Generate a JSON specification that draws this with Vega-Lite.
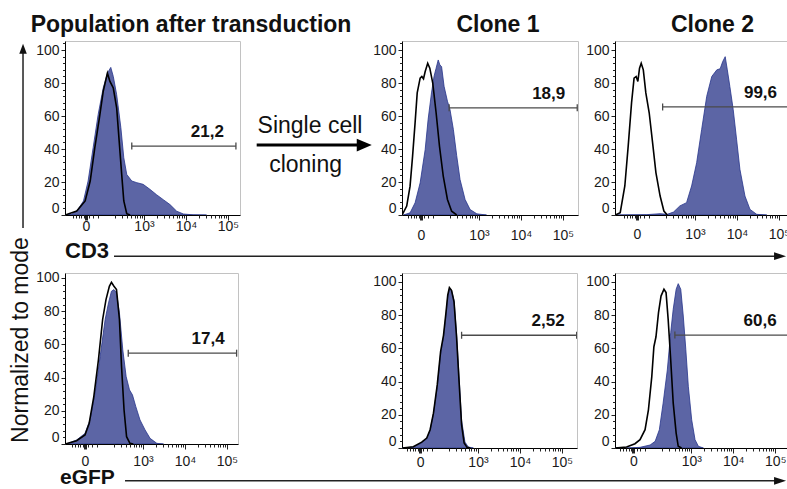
{
  "$schema": "https://vega.github.io/schema/vega-lite/v6.json",
  "padding": 0,
  "background": "white",
  "bounds": "flush",
  "columns": 5,
  "spacing": 0,
  "align": "each",
  "config": {
    "font": "Liberation Sans",
    "view": {"stroke": null},
    "axis": {"labelFont": "Liberation Sans", "domainColor": "#000", "tickColor": "#222", "labelColor": "#1a1a1a", "grid": false}
  },
  "datasets": {
    "curves": [
      {"p":"A","s":"f","u":-0.5,"v":0},{"p":"A","s":"f","u":-0.34,"v":0.5},{"p":"A","s":"f","u":-0.22,"v":2.4},{"p":"A","s":"f","u":-0.06,"v":8.5},{"p":"A","s":"f","u":0.05,"v":20.6},{"p":"A","s":"f","u":0.17,"v":40.8},{"p":"A","s":"f","u":0.29,"v":61},{"p":"A","s":"f","u":0.41,"v":77},{"p":"A","s":"f","u":0.51,"v":86},{"p":"A","s":"f","u":0.59,"v":89.5},{"p":"A","s":"f","u":0.65,"v":84},{"p":"A","s":"f","u":0.73,"v":73},{"p":"A","s":"f","u":0.83,"v":53},{"p":"A","s":"f","u":0.9,"v":34.7},{"p":"A","s":"f","u":0.97,"v":24.6},{"p":"A","s":"f","u":1.09,"v":20.6},{"p":"A","s":"f","u":1.21,"v":19.6},{"p":"A","s":"f","u":1.36,"v":18.6},{"p":"A","s":"f","u":1.52,"v":15.6},{"p":"A","s":"f","u":1.68,"v":12.3},{"p":"A","s":"f","u":1.84,"v":9.3},{"p":"A","s":"f","u":2.0,"v":6.3},{"p":"A","s":"f","u":2.16,"v":2.3},{"p":"A","s":"f","u":2.32,"v":0.6},{"p":"A","s":"f","u":2.55,"v":0.1},{"p":"A","s":"f","u":2.87,"v":0},
      {"p":"A","s":"l","u":-0.5,"v":0},{"p":"A","s":"l","u":-0.22,"v":2.4},{"p":"A","s":"l","u":-0.02,"v":8.5},{"p":"A","s":"l","u":0.1,"v":20.6},{"p":"A","s":"l","u":0.21,"v":40.8},{"p":"A","s":"l","u":0.32,"v":59},{"p":"A","s":"l","u":0.41,"v":75},{"p":"A","s":"l","u":0.51,"v":86},{"p":"A","s":"l","u":0.57,"v":81},{"p":"A","s":"l","u":0.65,"v":77},{"p":"A","s":"l","u":0.73,"v":65},{"p":"A","s":"l","u":0.79,"v":44.8},{"p":"A","s":"l","u":0.85,"v":24.6},{"p":"A","s":"l","u":0.9,"v":8.5},{"p":"A","s":"l","u":0.97,"v":0.8},{"p":"A","s":"l","u":1.05,"v":0},
      {"p":"B","s":"f","u":-0.42,"v":0},{"p":"B","s":"f","u":-0.26,"v":1.3},{"p":"B","s":"f","u":-0.14,"v":7.4},{"p":"B","s":"f","u":-0.02,"v":19.5},{"p":"B","s":"f","u":0.1,"v":39.7},{"p":"B","s":"f","u":0.17,"v":58},{"p":"B","s":"f","u":0.25,"v":74},{"p":"B","s":"f","u":0.31,"v":84},{"p":"B","s":"f","u":0.36,"v":89},{"p":"B","s":"f","u":0.41,"v":94},{"p":"B","s":"f","u":0.45,"v":91},{"p":"B","s":"f","u":0.49,"v":90},{"p":"B","s":"f","u":0.55,"v":78},{"p":"B","s":"f","u":0.63,"v":69},{"p":"B","s":"f","u":0.69,"v":64},{"p":"B","s":"f","u":0.77,"v":52},{"p":"B","s":"f","u":0.85,"v":36},{"p":"B","s":"f","u":0.93,"v":21.5},{"p":"B","s":"f","u":1.05,"v":9.4},{"p":"B","s":"f","u":1.17,"v":3.3},{"p":"B","s":"f","u":1.33,"v":0.7},{"p":"B","s":"f","u":1.56,"v":0},
      {"p":"B","s":"l","u":-0.45,"v":0},{"p":"B","s":"l","u":-0.34,"v":5.4},{"p":"B","s":"l","u":-0.26,"v":17.5},{"p":"B","s":"l","u":-0.2,"v":35.7},{"p":"B","s":"l","u":-0.14,"v":56},{"p":"B","s":"l","u":-0.09,"v":74},{"p":"B","s":"l","u":-0.02,"v":83},{"p":"B","s":"l","u":0.02,"v":84},{"p":"B","s":"l","u":0.06,"v":82.6},{"p":"B","s":"l","u":0.1,"v":87},{"p":"B","s":"l","u":0.16,"v":92},{"p":"B","s":"l","u":0.21,"v":89},{"p":"B","s":"l","u":0.28,"v":80},{"p":"B","s":"l","u":0.36,"v":62},{"p":"B","s":"l","u":0.44,"v":41.8},{"p":"B","s":"l","u":0.53,"v":23.6},{"p":"B","s":"l","u":0.63,"v":9.4},{"p":"B","s":"l","u":0.73,"v":2.3},{"p":"B","s":"l","u":0.85,"v":0},
      {"p":"C","s":"f","u":-0.52,"v":0},{"p":"C","s":"f","u":0.23,"v":0.2},{"p":"C","s":"f","u":0.55,"v":0.8},{"p":"C","s":"f","u":0.72,"v":0.4},{"p":"C","s":"f","u":0.87,"v":1.8},{"p":"C","s":"f","u":1.02,"v":5.5},{"p":"C","s":"f","u":1.18,"v":7.5},{"p":"C","s":"f","u":1.3,"v":17.6},{"p":"C","s":"f","u":1.42,"v":31.7},{"p":"C","s":"f","u":1.54,"v":52},{"p":"C","s":"f","u":1.66,"v":72},{"p":"C","s":"f","u":1.78,"v":84},{"p":"C","s":"f","u":1.9,"v":88},{"p":"C","s":"f","u":1.98,"v":88.7},{"p":"C","s":"f","u":2.04,"v":93},{"p":"C","s":"f","u":2.1,"v":96},{"p":"C","s":"f","u":2.15,"v":88},{"p":"C","s":"f","u":2.21,"v":78},{"p":"C","s":"f","u":2.29,"v":64},{"p":"C","s":"f","u":2.37,"v":46},{"p":"C","s":"f","u":2.45,"v":27.7},{"p":"C","s":"f","u":2.57,"v":11.5},{"p":"C","s":"f","u":2.69,"v":3.4},{"p":"C","s":"f","u":2.85,"v":0.4},{"p":"C","s":"f","u":3.09,"v":0},
      {"p":"C","s":"l","u":-0.52,"v":0},{"p":"C","s":"l","u":-0.4,"v":1.4},{"p":"C","s":"l","u":-0.29,"v":17.6},{"p":"C","s":"l","u":-0.21,"v":41.8},{"p":"C","s":"l","u":-0.13,"v":68},{"p":"C","s":"l","u":-0.07,"v":83},{"p":"C","s":"l","u":-0.02,"v":84},{"p":"C","s":"l","u":0.02,"v":81},{"p":"C","s":"l","u":0.06,"v":89},{"p":"C","s":"l","u":0.1,"v":92},{"p":"C","s":"l","u":0.15,"v":88},{"p":"C","s":"l","u":0.21,"v":74},{"p":"C","s":"l","u":0.29,"v":62},{"p":"C","s":"l","u":0.37,"v":44},{"p":"C","s":"l","u":0.45,"v":25.7},{"p":"C","s":"l","u":0.55,"v":11.5},{"p":"C","s":"l","u":0.64,"v":2.4},{"p":"C","s":"l","u":0.72,"v":0},
      {"p":"D","s":"f","u":-0.44,"v":0},{"p":"D","s":"f","u":-0.2,"v":2.4},{"p":"D","s":"f","u":0,"v":6.4},{"p":"D","s":"f","u":0.12,"v":14.5},{"p":"D","s":"f","u":0.24,"v":30.6},{"p":"D","s":"f","u":0.36,"v":52.7},{"p":"D","s":"f","u":0.48,"v":75},{"p":"D","s":"f","u":0.56,"v":85},{"p":"D","s":"f","u":0.63,"v":92},{"p":"D","s":"f","u":0.69,"v":93},{"p":"D","s":"f","u":0.75,"v":91},{"p":"D","s":"f","u":0.82,"v":79},{"p":"D","s":"f","u":0.9,"v":56.7},{"p":"D","s":"f","u":0.98,"v":40.6},{"p":"D","s":"f","u":1.06,"v":32.6},{"p":"D","s":"f","u":1.13,"v":29.6},{"p":"D","s":"f","u":1.21,"v":22.5},{"p":"D","s":"f","u":1.31,"v":14.5},{"p":"D","s":"f","u":1.43,"v":8.5},{"p":"D","s":"f","u":1.55,"v":3.4},{"p":"D","s":"f","u":1.71,"v":0.4},{"p":"D","s":"f","u":1.87,"v":0},
      {"p":"D","s":"l","u":-0.47,"v":0},{"p":"D","s":"l","u":-0.2,"v":2},{"p":"D","s":"l","u":0,"v":5.4},{"p":"D","s":"l","u":0.1,"v":12.5},{"p":"D","s":"l","u":0.21,"v":28.6},{"p":"D","s":"l","u":0.32,"v":50.7},{"p":"D","s":"l","u":0.42,"v":75},{"p":"D","s":"l","u":0.5,"v":87},{"p":"D","s":"l","u":0.58,"v":95},{"p":"D","s":"l","u":0.63,"v":97.4},{"p":"D","s":"l","u":0.69,"v":95},{"p":"D","s":"l","u":0.75,"v":93},{"p":"D","s":"l","u":0.82,"v":75},{"p":"D","s":"l","u":0.87,"v":46.7},{"p":"D","s":"l","u":0.93,"v":20.5},{"p":"D","s":"l","u":0.99,"v":4.4},{"p":"D","s":"l","u":1.07,"v":0.4},{"p":"D","s":"l","u":1.15,"v":0},
      {"p":"E","s":"f","u":-0.42,"v":0},{"p":"E","s":"f","u":-0.16,"v":0.6},{"p":"E","s":"f","u":0.04,"v":3},{"p":"E","s":"f","u":0.16,"v":5.6},{"p":"E","s":"f","u":0.24,"v":10.6},{"p":"E","s":"f","u":0.32,"v":20.7},{"p":"E","s":"f","u":0.41,"v":36.7},{"p":"E","s":"f","u":0.49,"v":56.8},{"p":"E","s":"f","u":0.56,"v":66.9},{"p":"E","s":"f","u":0.62,"v":81},{"p":"E","s":"f","u":0.66,"v":91},{"p":"E","s":"f","u":0.7,"v":96},{"p":"E","s":"f","u":0.75,"v":95},{"p":"E","s":"f","u":0.81,"v":89},{"p":"E","s":"f","u":0.87,"v":68.9},{"p":"E","s":"f","u":0.93,"v":42.8},{"p":"E","s":"f","u":0.99,"v":16.7},{"p":"E","s":"f","u":1.07,"v":3.6},{"p":"E","s":"f","u":1.15,"v":0.6},{"p":"E","s":"f","u":1.27,"v":0},
      {"p":"E","s":"l","u":-0.42,"v":0},{"p":"E","s":"l","u":-0.16,"v":0.8},{"p":"E","s":"l","u":0.04,"v":3.5},{"p":"E","s":"l","u":0.16,"v":6},{"p":"E","s":"l","u":0.24,"v":11},{"p":"E","s":"l","u":0.32,"v":21},{"p":"E","s":"l","u":0.41,"v":38},{"p":"E","s":"l","u":0.49,"v":58},{"p":"E","s":"l","u":0.56,"v":68},{"p":"E","s":"l","u":0.62,"v":82},{"p":"E","s":"l","u":0.66,"v":92},{"p":"E","s":"l","u":0.7,"v":96.6},{"p":"E","s":"l","u":0.75,"v":95},{"p":"E","s":"l","u":0.81,"v":88},{"p":"E","s":"l","u":0.87,"v":67},{"p":"E","s":"l","u":0.93,"v":40},{"p":"E","s":"l","u":0.99,"v":14},{"p":"E","s":"l","u":1.05,"v":3},{"p":"E","s":"l","u":1.12,"v":0.4},{"p":"E","s":"l","u":1.2,"v":0},
      {"p":"F","s":"f","u":-0.44,"v":0},{"p":"F","s":"f","u":-0.16,"v":0},{"p":"F","s":"f","u":0.16,"v":0.4},{"p":"F","s":"f","u":0.4,"v":1.8},{"p":"F","s":"f","u":0.52,"v":4},{"p":"F","s":"f","u":0.62,"v":11},{"p":"F","s":"f","u":0.71,"v":27},{"p":"F","s":"f","u":0.81,"v":47},{"p":"F","s":"f","u":0.89,"v":69.4},{"p":"F","s":"f","u":0.95,"v":83.5},{"p":"F","s":"f","u":1.02,"v":95.6},{"p":"F","s":"f","u":1.07,"v":99},{"p":"F","s":"f","u":1.13,"v":95.6},{"p":"F","s":"f","u":1.19,"v":79.5},{"p":"F","s":"f","u":1.25,"v":59.4},{"p":"F","s":"f","u":1.31,"v":37.2},{"p":"F","s":"f","u":1.39,"v":17},{"p":"F","s":"f","u":1.47,"v":5},{"p":"F","s":"f","u":1.55,"v":1},{"p":"F","s":"f","u":1.67,"v":0},
      {"p":"F","s":"l","u":-0.44,"v":0},{"p":"F","s":"l","u":-0.16,"v":0.6},{"p":"F","s":"l","u":0.04,"v":2.6},{"p":"F","s":"l","u":0.16,"v":5},{"p":"F","s":"l","u":0.28,"v":11},{"p":"F","s":"l","u":0.36,"v":23},{"p":"F","s":"l","u":0.44,"v":43},{"p":"F","s":"l","u":0.49,"v":61},{"p":"F","s":"l","u":0.54,"v":67},{"p":"F","s":"l","u":0.6,"v":81.5},{"p":"F","s":"l","u":0.66,"v":91.5},{"p":"F","s":"l","u":0.73,"v":95.6},{"p":"F","s":"l","u":0.78,"v":93.6},{"p":"F","s":"l","u":0.83,"v":77.5},{"p":"F","s":"l","u":0.89,"v":53.3},{"p":"F","s":"l","u":0.95,"v":27.2},{"p":"F","s":"l","u":1.02,"v":9},{"p":"F","s":"l","u":1.07,"v":1},{"p":"F","s":"l","u":1.15,"v":0}
    ],
    "gates": [
      {"p":"A","g1":1.09,"g2":3.57,"gv":41.8,"label":"21,2"},
      {"p":"B","g1":0.67,"g2":3.72,"gv":65,"label":"18,9"},
      {"p":"C","g1":0.61,"g2":3.62,"gv":65.5,"label":"99,6"},
      {"p":"D","g1":1.03,"g2":3.61,"gv":54.7,"label":"17,4"},
      {"p":"E","g1":0.99,"g2":3.73,"gv":67.9,"label":"2,52"},
      {"p":"F","g1":0.99,"g2":3.7,"gv":68,"label":"60,6"}
    ]
  },
  "concat": [
    {"width": 65, "height": 41, "data": {"values": [{}]}, "mark": {"type": "point", "opacity": 0}, "encoding": {}},
    {"width": 175, "height": 41, "data": {"values": [{}]}, "mark": {"type": "point", "opacity": 0}, "encoding": {}},
    {"width": 162, "height": 41, "data": {"values": [{}]}, "mark": {"type": "point", "opacity": 0}, "encoding": {}},
    {"width": 213, "height": 41, "data": {"values": [{}]}, "mark": {"type": "point", "opacity": 0}, "encoding": {}},
    {"width": 172, "height": 41, "data": {"values": [{}]}, "mark": {"type": "point", "opacity": 0}, "encoding": {}},

    {
      "width": 65, "height": 174,
      "encoding": {
        "x": {"field": "x", "type": "quantitative", "scale": {"domain": [0, 1]}, "axis": null},
        "y": {"field": "y", "type": "quantitative", "scale": {"domain": [0, 1]}, "axis": null}
      },
      "layer": [
        {"data": {"values": [{"x": 0.354, "y": -0.075, "y2": 0.943}]}, "mark": {"type": "rule", "color": "#222", "strokeWidth": 1.5}, "encoding": {"y2": {"field": "y2"}}},
        {"data": {"values": [{"x": 0.354, "y": 0.955}]}, "mark": {"type": "point", "shape": "M-0.75,1L0,-1L0.75,1Z", "size": 100, "filled": true, "color": "#111", "opacity": 1}}
      ]
    },
    {
      "width": 175, "height": 174,
      "view": {"stroke": "#c2c2c2"},
      "title": {"text": "Population after transduction", "fontSize": 23, "fontWeight": "bold", "color": "#111", "frame": "group", "anchor": "middle", "dx": 38.5, "offset": -14, "baseline": "alphabetic"},
      "resolve": {"axis": {"x": "independent", "y": "independent"}},
      "layer": [
        {"data": {"name": "curves"}, "transform": [{"filter": "datum.p == 'A' && datum.s == 'f'"}],
         "mark": {"type": "area", "color": "#5c65a5", "stroke": "#27358c", "strokeWidth": 0.8, "clip": true},
         "encoding": {
           "x": {"field": "u", "type": "quantitative", "title": null, "scale": {"domain": [-0.5, 3.667], "nice": false, "zero": false},
                 "axis": {"values": [0, 1.38, 2.38, 3.38], "labelExpr": "datum.value == 0 ? '0' : datum.value == 1.38 ? '10³' : datum.value == 2.38 ? '10⁴' : '10⁵'", "tickSize": 5, "tickWidth": {"condition": {"test": "datum.value == 0", "value": 3}, "value": 1}, "labelPadding": -1, "labelFontSize": 14, "labelFlush": false, "title": null}},
           "y": {"field": "v", "type": "quantitative", "title": null, "scale": {"domain": [0, 105.5], "nice": false},
                 "axis": {"values": [0, 20, 40, 60, 80, 100], "labelFlush": true, "tickSize": 4, "labelPadding": 2, "labelFontSize": 14, "title": null}}
         }},
        {"data": {"name": "curves"}, "transform": [{"filter": "datum.p == 'A' && datum.s == 'l'"}],
         "mark": {"type": "line", "color": "#000", "strokeWidth": 1.6, "clip": true},
         "encoding": {
           "x": {"field": "u", "type": "quantitative", "title": null, "axis": {"orient": "bottom", "values": [-0.32,-0.24,-0.17,-0.11,-0.05,0.08,0.16,0.28,0.681,0.857,0.982,1.079,1.158,1.225,1.283,1.334,1.681,1.857,1.982,2.079,2.158,2.225,2.283,2.334,2.681,2.857,2.982,3.079,3.158,3.225,3.283,3.334], "labels": false, "domain": false, "tickSize": 3, "title": null}},
           "y": {"field": "v", "type": "quantitative", "title": null, "axis": {"orient": "left", "values": [4,8,12,16,24,28,32,36,44,48,52,56,64,68,72,76,84,88,92,96,104], "labels": false, "domain": false, "tickSize": 2.5, "title": null}}
         }},
        {"data": {"name": "gates"}, "transform": [{"filter": "datum.p == 'A'"}],
         "mark": {"type": "rule", "color": "#4a4a4a", "strokeWidth": 1.3, "clip": true},
         "encoding": {"x": {"field": "g1", "type": "quantitative", "axis": null}, "x2": {"field": "g2"}, "y": {"field": "gv", "type": "quantitative", "axis": null}}},
        {"data": {"name": "gates"}, "transform": [{"filter": "datum.p == 'A'"}, {"fold": ["g1", "g2"], "as": ["end", "gx"]}],
         "mark": {"type": "point", "shape": "M0,-1L0,1", "size": 49, "color": "#4a4a4a", "strokeWidth": 1.3, "opacity": 1, "clip": true},
         "encoding": {"x": {"field": "gx", "type": "quantitative", "axis": null}, "y": {"field": "gv", "type": "quantitative", "axis": null}}},
        {"data": {"name": "gates"}, "transform": [{"filter": "datum.p == 'A'"}],
         "mark": {"type": "text", "align": "right", "baseline": "middle", "dx": -12, "dy": -14, "fontSize": 17, "fontWeight": "bold", "color": "#111", "clip": true},
         "encoding": {"x": {"field": "g2", "type": "quantitative", "axis": null}, "y": {"field": "gv", "type": "quantitative", "axis": null}, "text": {"field": "label"}}}
      ]
    },
    {
      "width": 162, "height": 174,
      "encoding": {
        "x": {"field": "x", "type": "quantitative", "scale": {"domain": [0, 1]}, "axis": null},
        "y": {"field": "y", "type": "quantitative", "scale": {"domain": [0, 1]}, "axis": null}
      },
      "layer": [
        {"data": {"values": [{"x": 0.103, "x2": 0.75, "y": 0.402}]}, "mark": {"type": "rule", "color": "#000", "strokeWidth": 3}, "encoding": {"x2": {"field": "x2"}}},
        {"data": {"values": [{"x": 0.767, "y": 0.402}]}, "mark": {"type": "point", "shape": "M-1,-0.85L1,0L-1,0.85Z", "size": 225, "filled": true, "color": "#000", "opacity": 1}},
        {"data": {"values": [{"x": 0.432, "y": 0.47, "t": "Single cell"}, {"x": 0.405, "y": 0.249, "t": "cloning"}]}, "mark": {"type": "text", "align": "center", "baseline": "alphabetic", "fontSize": 23, "color": "#111"}, "encoding": {"text": {"field": "t"}}}
      ]
    },
    {
      "width": 176, "height": 174,
      "view": {"stroke": "#c2c2c2"},
      "title": {"text": "Clone 1", "fontSize": 23, "fontWeight": "bold", "color": "#111", "frame": "group", "anchor": "middle", "dx": 8, "offset": -14, "baseline": "alphabetic"},
      "resolve": {"axis": {"x": "independent", "y": "independent"}},
      "layer": [
        {"data": {"name": "curves"}, "transform": [{"filter": "datum.p == 'B' && datum.s == 'f'"}],
         "mark": {"type": "area", "color": "#5c65a5", "stroke": "#27358c", "strokeWidth": 0.8, "clip": true},
         "encoding": {
           "x": {"field": "u", "type": "quantitative", "title": null, "scale": {"domain": [-0.452, 3.738], "nice": false, "zero": false},
                 "axis": {"values": [0, 1.38, 2.38, 3.38], "labelExpr": "datum.value == 0 ? '0' : datum.value == 1.38 ? '10³' : datum.value == 2.38 ? '10⁴' : '10⁵'", "tickSize": 5, "tickWidth": {"condition": {"test": "datum.value == 0", "value": 3}, "value": 1}, "labelPadding": 8.5, "labelFontSize": 14, "labelFlush": false, "title": null}},
           "y": {"field": "v", "type": "quantitative", "title": null, "scale": {"domain": [0, 105.5], "nice": false},
                 "axis": {"values": [0, 20, 40, 60, 80, 100], "labelFlush": true, "tickSize": 4, "labelPadding": 2, "labelFontSize": 14, "title": null}}
         }},
        {"data": {"name": "curves"}, "transform": [{"filter": "datum.p == 'B' && datum.s == 'l'"}],
         "mark": {"type": "line", "color": "#000", "strokeWidth": 1.6, "clip": true},
         "encoding": {
           "x": {"field": "u", "type": "quantitative", "title": null, "axis": {"orient": "bottom", "values": [-0.32,-0.24,-0.17,-0.11,-0.05,0.08,0.16,0.28,0.681,0.857,0.982,1.079,1.158,1.225,1.283,1.334,1.681,1.857,1.982,2.079,2.158,2.225,2.283,2.334,2.681,2.857,2.982,3.079,3.158,3.225,3.283,3.334], "labels": false, "domain": false, "tickSize": 3, "title": null}},
           "y": {"field": "v", "type": "quantitative", "title": null, "axis": {"orient": "left", "values": [4,8,12,16,24,28,32,36,44,48,52,56,64,68,72,76,84,88,92,96,104], "labels": false, "domain": false, "tickSize": 2.5, "title": null}}
         }},
        {"data": {"name": "gates"}, "transform": [{"filter": "datum.p == 'B'"}],
         "mark": {"type": "rule", "color": "#4a4a4a", "strokeWidth": 1.3, "clip": true},
         "encoding": {"x": {"field": "g1", "type": "quantitative", "axis": null}, "x2": {"field": "g2"}, "y": {"field": "gv", "type": "quantitative", "axis": null}}},
        {"data": {"name": "gates"}, "transform": [{"filter": "datum.p == 'B'"}, {"fold": ["g1", "g2"], "as": ["end", "gx"]}],
         "mark": {"type": "point", "shape": "M0,-1L0,1", "size": 49, "color": "#4a4a4a", "strokeWidth": 1.3, "opacity": 1, "clip": true},
         "encoding": {"x": {"field": "gx", "type": "quantitative", "axis": null}, "y": {"field": "gv", "type": "quantitative", "axis": null}}},
        {"data": {"name": "gates"}, "transform": [{"filter": "datum.p == 'B'"}],
         "mark": {"type": "text", "align": "right", "baseline": "middle", "dx": -12, "dy": -14, "fontSize": 17, "fontWeight": "bold", "color": "#111", "clip": true},
         "encoding": {"x": {"field": "g2", "type": "quantitative", "axis": null}, "y": {"field": "gv", "type": "quantitative", "axis": null}, "text": {"field": "label"}}}
      ]
    },
    {
      "width": 172, "height": 174,
      "view": {"stroke": "#c2c2c2"},
      "title": {"text": "Clone 2", "fontSize": 23, "fontWeight": "bold", "color": "#111", "frame": "group", "anchor": "middle", "dx": 11.5, "offset": -14, "baseline": "alphabetic"},
      "resolve": {"axis": {"x": "independent", "y": "independent"}},
      "layer": [
        {"data": {"name": "curves"}, "transform": [{"filter": "datum.p == 'C' && datum.s == 'f'"}],
         "mark": {"type": "area", "color": "#5c65a5", "stroke": "#27358c", "strokeWidth": 0.8, "clip": true},
         "encoding": {
           "x": {"field": "u", "type": "quantitative", "title": null, "scale": {"domain": [-0.524, 3.571], "nice": false, "zero": false},
                 "axis": {"values": [0, 1.38, 2.38, 3.38], "labelExpr": "datum.value == 0 ? '0' : datum.value == 1.38 ? '10³' : datum.value == 2.38 ? '10⁴' : '10⁵'", "tickSize": 5, "tickWidth": {"condition": {"test": "datum.value == 0", "value": 3}, "value": 1}, "labelPadding": 7.3, "labelFontSize": 14, "labelFlush": false, "title": null}},
           "y": {"field": "v", "type": "quantitative", "title": null, "scale": {"domain": [0, 105.5], "nice": false},
                 "axis": {"values": [0, 20, 40, 60, 80, 100], "labelFlush": true, "tickSize": 4, "labelPadding": 2, "labelFontSize": 14, "title": null}}
         }},
        {"data": {"name": "curves"}, "transform": [{"filter": "datum.p == 'C' && datum.s == 'l'"}],
         "mark": {"type": "line", "color": "#000", "strokeWidth": 1.6, "clip": true},
         "encoding": {
           "x": {"field": "u", "type": "quantitative", "title": null, "axis": {"orient": "bottom", "values": [-0.32,-0.24,-0.17,-0.11,-0.05,0.08,0.16,0.28,0.681,0.857,0.982,1.079,1.158,1.225,1.283,1.334,1.681,1.857,1.982,2.079,2.158,2.225,2.283,2.334,2.681,2.857,2.982,3.079,3.158,3.225,3.283,3.334], "labels": false, "domain": false, "tickSize": 3, "title": null}},
           "y": {"field": "v", "type": "quantitative", "title": null, "axis": {"orient": "left", "values": [4,8,12,16,24,28,32,36,44,48,52,56,64,68,72,76,84,88,92,96,104], "labels": false, "domain": false, "tickSize": 2.5, "title": null}}
         }},
        {"data": {"name": "gates"}, "transform": [{"filter": "datum.p == 'C'"}],
         "mark": {"type": "rule", "color": "#4a4a4a", "strokeWidth": 1.3, "clip": true},
         "encoding": {"x": {"field": "g1", "type": "quantitative", "axis": null}, "x2": {"field": "g2"}, "y": {"field": "gv", "type": "quantitative", "axis": null}}},
        {"data": {"name": "gates"}, "transform": [{"filter": "datum.p == 'C'"}, {"fold": ["g1", "g2"], "as": ["end", "gx"]}],
         "mark": {"type": "point", "shape": "M0,-1L0,1", "size": 49, "color": "#4a4a4a", "strokeWidth": 1.3, "opacity": 1, "clip": true},
         "encoding": {"x": {"field": "gx", "type": "quantitative", "axis": null}, "y": {"field": "gv", "type": "quantitative", "axis": null}}},
        {"data": {"name": "gates"}, "transform": [{"filter": "datum.p == 'C'"}],
         "mark": {"type": "text", "align": "right", "baseline": "middle", "dx": -12, "dy": -14, "fontSize": 17, "fontWeight": "bold", "color": "#111", "clip": true},
         "encoding": {"x": {"field": "g2", "type": "quantitative", "axis": null}, "y": {"field": "gv", "type": "quantitative", "axis": null}, "text": {"field": "label"}}}
      ]
    },

    {"width": 65, "height": 58, "data": {"values": [{}]}, "mark": {"type": "point", "opacity": 0}, "encoding": {}},
    {
      "width": 175, "height": 58,
      "encoding": {
        "x": {"field": "x", "type": "quantitative", "scale": {"domain": [0, 1]}, "axis": null},
        "y": {"field": "y", "type": "quantitative", "scale": {"domain": [0, 1]}, "axis": null}
      },
      "layer": [
        {"data": {"values": [{"x": 0.28, "x2": 4.074, "y": 0.29}]}, "mark": {"type": "rule", "color": "#222", "strokeWidth": 1.5}, "encoding": {"x2": {"field": "x2"}}},
        {"data": {"values": [{"x": 4.086, "y": 0.29}]}, "mark": {"type": "point", "shape": "M-1,-0.65L1,0L-1,0.65Z", "size": 144, "filled": true, "color": "#111", "opacity": 1}},
        {"data": {"values": [{"x": 0, "y": 0.253, "t": "CD3"}]}, "mark": {"type": "text", "align": "left", "baseline": "alphabetic", "fontSize": 22, "fontWeight": "bold", "color": "#111"}, "encoding": {"text": {"field": "t"}}}
      ]
    },
    {"width": 10, "height": 58, "data": {"values": [{}]}, "mark": {"type": "point", "opacity": 0}, "encoding": {}},
    {"width": 10, "height": 58, "data": {"values": [{}]}, "mark": {"type": "point", "opacity": 0}, "encoding": {}},
    {"width": 10, "height": 58, "data": {"values": [{}]}, "mark": {"type": "point", "opacity": 0}, "encoding": {}},

    {
      "width": 65, "height": 175,
      "encoding": {
        "x": {"field": "x", "type": "quantitative", "scale": {"domain": [0, 1]}, "axis": null},
        "y": {"field": "y", "type": "quantitative", "scale": {"domain": [0, 1]}, "axis": null}
      },
      "layer": [
        {"data": {"values": [{"x": 0.435, "y": 0.617, "t": "Normalized to mode"}]}, "mark": {"type": "text", "angle": 270, "align": "center", "baseline": "alphabetic", "fontSize": 23, "color": "#111"}, "encoding": {"text": {"field": "t"}}}
      ]
    },
    {
      "width": 173, "height": 171,
      "view": {"stroke": "#c2c2c2"},
      "resolve": {"axis": {"x": "independent", "y": "independent"}},
      "layer": [
        {"data": {"name": "curves"}, "transform": [{"filter": "datum.p == 'D' && datum.s == 'f'"}],
         "mark": {"type": "area", "color": "#5c65a5", "stroke": "#27358c", "strokeWidth": 0.8, "clip": true},
         "encoding": {
           "x": {"field": "u", "type": "quantitative", "title": null, "scale": {"domain": [-0.476, 3.643], "nice": false, "zero": false},
                 "axis": {"values": [0, 1.38, 2.38, 3.38], "labelExpr": "datum.value == 0 ? '0' : datum.value == 1.38 ? '10³' : datum.value == 2.38 ? '10⁴' : '10⁵'", "tickSize": 5, "tickWidth": {"condition": {"test": "datum.value == 0", "value": 3}, "value": 1}, "labelPadding": 5, "labelFontSize": 14, "labelFlush": false, "title": null}},
           "y": {"field": "v", "type": "quantitative", "title": null, "scale": {"domain": [0, 103], "nice": false},
                 "axis": {"values": [0, 20, 40, 60, 80, 100], "labelFlush": true, "tickSize": 4, "labelPadding": 2, "labelFontSize": 14, "title": null}}
         }},
        {"data": {"name": "curves"}, "transform": [{"filter": "datum.p == 'D' && datum.s == 'l'"}],
         "mark": {"type": "line", "color": "#000", "strokeWidth": 1.6, "clip": true},
         "encoding": {
           "x": {"field": "u", "type": "quantitative", "title": null, "axis": {"orient": "bottom", "values": [-0.32,-0.24,-0.17,-0.11,-0.05,0.08,0.16,0.28,0.681,0.857,0.982,1.079,1.158,1.225,1.283,1.334,1.681,1.857,1.982,2.079,2.158,2.225,2.283,2.334,2.681,2.857,2.982,3.079,3.158,3.225,3.283,3.334], "labels": false, "domain": false, "tickSize": 3, "title": null}},
           "y": {"field": "v", "type": "quantitative", "title": null, "axis": {"orient": "left", "values": [4,8,12,16,24,28,32,36,44,48,52,56,64,68,72,76,84,88,92,96], "labels": false, "domain": false, "tickSize": 2.5, "title": null}}
         }},
        {"data": {"name": "gates"}, "transform": [{"filter": "datum.p == 'D'"}],
         "mark": {"type": "rule", "color": "#4a4a4a", "strokeWidth": 1.3, "clip": true},
         "encoding": {"x": {"field": "g1", "type": "quantitative", "axis": null}, "x2": {"field": "g2"}, "y": {"field": "gv", "type": "quantitative", "axis": null}}},
        {"data": {"name": "gates"}, "transform": [{"filter": "datum.p == 'D'"}, {"fold": ["g1", "g2"], "as": ["end", "gx"]}],
         "mark": {"type": "point", "shape": "M0,-1L0,1", "size": 49, "color": "#4a4a4a", "strokeWidth": 1.3, "opacity": 1, "clip": true},
         "encoding": {"x": {"field": "gx", "type": "quantitative", "axis": null}, "y": {"field": "gv", "type": "quantitative", "axis": null}}},
        {"data": {"name": "gates"}, "transform": [{"filter": "datum.p == 'D'"}],
         "mark": {"type": "text", "align": "right", "baseline": "middle", "dx": -12, "dy": -14, "fontSize": 17, "fontWeight": "bold", "color": "#111", "clip": true},
         "encoding": {"x": {"field": "g2", "type": "quantitative", "axis": null}, "y": {"field": "gv", "type": "quantitative", "axis": null}, "text": {"field": "label"}}}
      ]
    },
    {"width": 10, "height": 10, "data": {"values": [{}]}, "mark": {"type": "point", "opacity": 0}, "encoding": {}},
    {
      "width": 175, "height": 175,
      "view": {"stroke": "#c2c2c2"},
      "resolve": {"axis": {"x": "independent", "y": "independent"}},
      "layer": [
        {"data": {"name": "curves"}, "transform": [{"filter": "datum.p == 'E' && datum.s == 'f'"}],
         "mark": {"type": "area", "color": "#5c65a5", "stroke": "#27358c", "strokeWidth": 0.8, "clip": true},
         "encoding": {
           "x": {"field": "u", "type": "quantitative", "title": null, "scale": {"domain": [-0.429, 3.738], "nice": false, "zero": false},
                 "axis": {"values": [0, 1.38, 2.38, 3.38], "labelExpr": "datum.value == 0 ? '0' : datum.value == 1.38 ? '10³' : datum.value == 2.38 ? '10⁴' : '10⁵'", "tickSize": 5, "tickWidth": {"condition": {"test": "datum.value == 0", "value": 3}, "value": 1}, "labelPadding": 2.3, "labelFontSize": 14, "labelFlush": false, "title": null}},
           "y": {"field": "v", "type": "quantitative", "title": null, "scale": {"domain": [0, 105.4], "nice": false},
                 "axis": {"values": [0, 20, 40, 60, 80, 100], "labelFlush": true, "tickSize": 4, "labelPadding": 2, "labelFontSize": 14, "title": null}}
         }},
        {"data": {"name": "curves"}, "transform": [{"filter": "datum.p == 'E' && datum.s == 'l'"}],
         "mark": {"type": "line", "color": "#000", "strokeWidth": 1.6, "clip": true},
         "encoding": {
           "x": {"field": "u", "type": "quantitative", "title": null, "axis": {"orient": "bottom", "values": [-0.32,-0.24,-0.17,-0.11,-0.05,0.08,0.16,0.28,0.681,0.857,0.982,1.079,1.158,1.225,1.283,1.334,1.681,1.857,1.982,2.079,2.158,2.225,2.283,2.334,2.681,2.857,2.982,3.079,3.158,3.225,3.283,3.334], "labels": false, "domain": false, "tickSize": 3, "title": null}},
           "y": {"field": "v", "type": "quantitative", "title": null, "axis": {"orient": "left", "values": [4,8,12,16,24,28,32,36,44,48,52,56,64,68,72,76,84,88,92,96,104], "labels": false, "domain": false, "tickSize": 2.5, "title": null}}
         }},
        {"data": {"name": "gates"}, "transform": [{"filter": "datum.p == 'E'"}],
         "mark": {"type": "rule", "color": "#4a4a4a", "strokeWidth": 1.3, "clip": true},
         "encoding": {"x": {"field": "g1", "type": "quantitative", "axis": null}, "x2": {"field": "g2"}, "y": {"field": "gv", "type": "quantitative", "axis": null}}},
        {"data": {"name": "gates"}, "transform": [{"filter": "datum.p == 'E'"}, {"fold": ["g1", "g2"], "as": ["end", "gx"]}],
         "mark": {"type": "point", "shape": "M0,-1L0,1", "size": 49, "color": "#4a4a4a", "strokeWidth": 1.3, "opacity": 1, "clip": true},
         "encoding": {"x": {"field": "gx", "type": "quantitative", "axis": null}, "y": {"field": "gv", "type": "quantitative", "axis": null}}},
        {"data": {"name": "gates"}, "transform": [{"filter": "datum.p == 'E'"}],
         "mark": {"type": "text", "align": "right", "baseline": "middle", "dx": -12, "dy": -14, "fontSize": 17, "fontWeight": "bold", "color": "#111", "clip": true},
         "encoding": {"x": {"field": "g2", "type": "quantitative", "axis": null}, "y": {"field": "gv", "type": "quantitative", "axis": null}, "text": {"field": "label"}}}
      ]
    },
    {
      "width": 172, "height": 175,
      "view": {"stroke": "#c2c2c2"},
      "resolve": {"axis": {"x": "independent", "y": "independent"}},
      "layer": [
        {"data": {"name": "curves"}, "transform": [{"filter": "datum.p == 'F' && datum.s == 'f'"}],
         "mark": {"type": "area", "color": "#5c65a5", "stroke": "#27358c", "strokeWidth": 0.8, "clip": true},
         "encoding": {
           "x": {"field": "u", "type": "quantitative", "title": null, "scale": {"domain": [-0.436, 3.66], "nice": false, "zero": false},
                 "axis": {"values": [0, 1.38, 2.38, 3.38], "labelExpr": "datum.value == 0 ? '0' : datum.value == 1.38 ? '10³' : datum.value == 2.38 ? '10⁴' : '10⁵'", "tickSize": 5, "tickWidth": {"condition": {"test": "datum.value == 0", "value": 3}, "value": 1}, "labelPadding": 1.7, "labelFontSize": 14, "labelFlush": false, "title": null}},
           "y": {"field": "v", "type": "quantitative", "title": null, "scale": {"domain": [0, 105.4], "nice": false},
                 "axis": {"values": [0, 20, 40, 60, 80, 100], "labelFlush": true, "tickSize": 4, "labelPadding": 2, "labelFontSize": 14, "title": null}}
         }},
        {"data": {"name": "curves"}, "transform": [{"filter": "datum.p == 'F' && datum.s == 'l'"}],
         "mark": {"type": "line", "color": "#000", "strokeWidth": 1.6, "clip": true},
         "encoding": {
           "x": {"field": "u", "type": "quantitative", "title": null, "axis": {"orient": "bottom", "values": [-0.32,-0.24,-0.17,-0.11,-0.05,0.08,0.16,0.28,0.681,0.857,0.982,1.079,1.158,1.225,1.283,1.334,1.681,1.857,1.982,2.079,2.158,2.225,2.283,2.334,2.681,2.857,2.982,3.079,3.158,3.225,3.283,3.334], "labels": false, "domain": false, "tickSize": 3, "title": null}},
           "y": {"field": "v", "type": "quantitative", "title": null, "axis": {"orient": "left", "values": [4,8,12,16,24,28,32,36,44,48,52,56,64,68,72,76,84,88,92,96,104], "labels": false, "domain": false, "tickSize": 2.5, "title": null}}
         }},
        {"data": {"name": "gates"}, "transform": [{"filter": "datum.p == 'F'"}],
         "mark": {"type": "rule", "color": "#4a4a4a", "strokeWidth": 1.3, "clip": true},
         "encoding": {"x": {"field": "g1", "type": "quantitative", "axis": null}, "x2": {"field": "g2"}, "y": {"field": "gv", "type": "quantitative", "axis": null}}},
        {"data": {"name": "gates"}, "transform": [{"filter": "datum.p == 'F'"}, {"fold": ["g1", "g2"], "as": ["end", "gx"]}],
         "mark": {"type": "point", "shape": "M0,-1L0,1", "size": 49, "color": "#4a4a4a", "strokeWidth": 1.3, "opacity": 1, "clip": true},
         "encoding": {"x": {"field": "gx", "type": "quantitative", "axis": null}, "y": {"field": "gv", "type": "quantitative", "axis": null}}},
        {"data": {"name": "gates"}, "transform": [{"filter": "datum.p == 'F'"}],
         "mark": {"type": "text", "align": "right", "baseline": "middle", "dx": -12, "dy": -14, "fontSize": 17, "fontWeight": "bold", "color": "#111", "clip": true},
         "encoding": {"x": {"field": "g2", "type": "quantitative", "axis": null}, "y": {"field": "gv", "type": "quantitative", "axis": null}, "text": {"field": "label"}}}
      ]
    },

    {"width": 65, "height": 41, "data": {"values": [{}]}, "mark": {"type": "point", "opacity": 0}, "encoding": {}},
    {
      "width": 175, "height": 41,
      "encoding": {
        "x": {"field": "x", "type": "quantitative", "scale": {"domain": [0, 1]}, "axis": null},
        "y": {"field": "y", "type": "quantitative", "scale": {"domain": [0, 1]}, "axis": null}
      },
      "layer": [
        {"data": {"values": [{"x": 0.343, "x2": 4.074, "y": 0.2}]}, "mark": {"type": "rule", "color": "#222", "strokeWidth": 1.5}, "encoding": {"x2": {"field": "x2"}}},
        {"data": {"values": [{"x": 4.086, "y": 0.2}]}, "mark": {"type": "point", "shape": "M-1,-0.65L1,0L-1,0.65Z", "size": 144, "filled": true, "color": "#111", "opacity": 1}},
        {"data": {"values": [{"x": -0.0286, "y": 0.11, "t": "eGFP"}]}, "mark": {"type": "text", "align": "left", "baseline": "alphabetic", "fontSize": 21, "fontWeight": "bold", "color": "#111"}, "encoding": {"text": {"field": "t"}}}
      ]
    },
    {"width": 10, "height": 10, "data": {"values": [{}]}, "mark": {"type": "point", "opacity": 0}, "encoding": {}},
    {"width": 10, "height": 10, "data": {"values": [{}]}, "mark": {"type": "point", "opacity": 0}, "encoding": {}},
    {"width": 10, "height": 10, "data": {"values": [{}]}, "mark": {"type": "point", "opacity": 0}, "encoding": {}}
  ]
}
